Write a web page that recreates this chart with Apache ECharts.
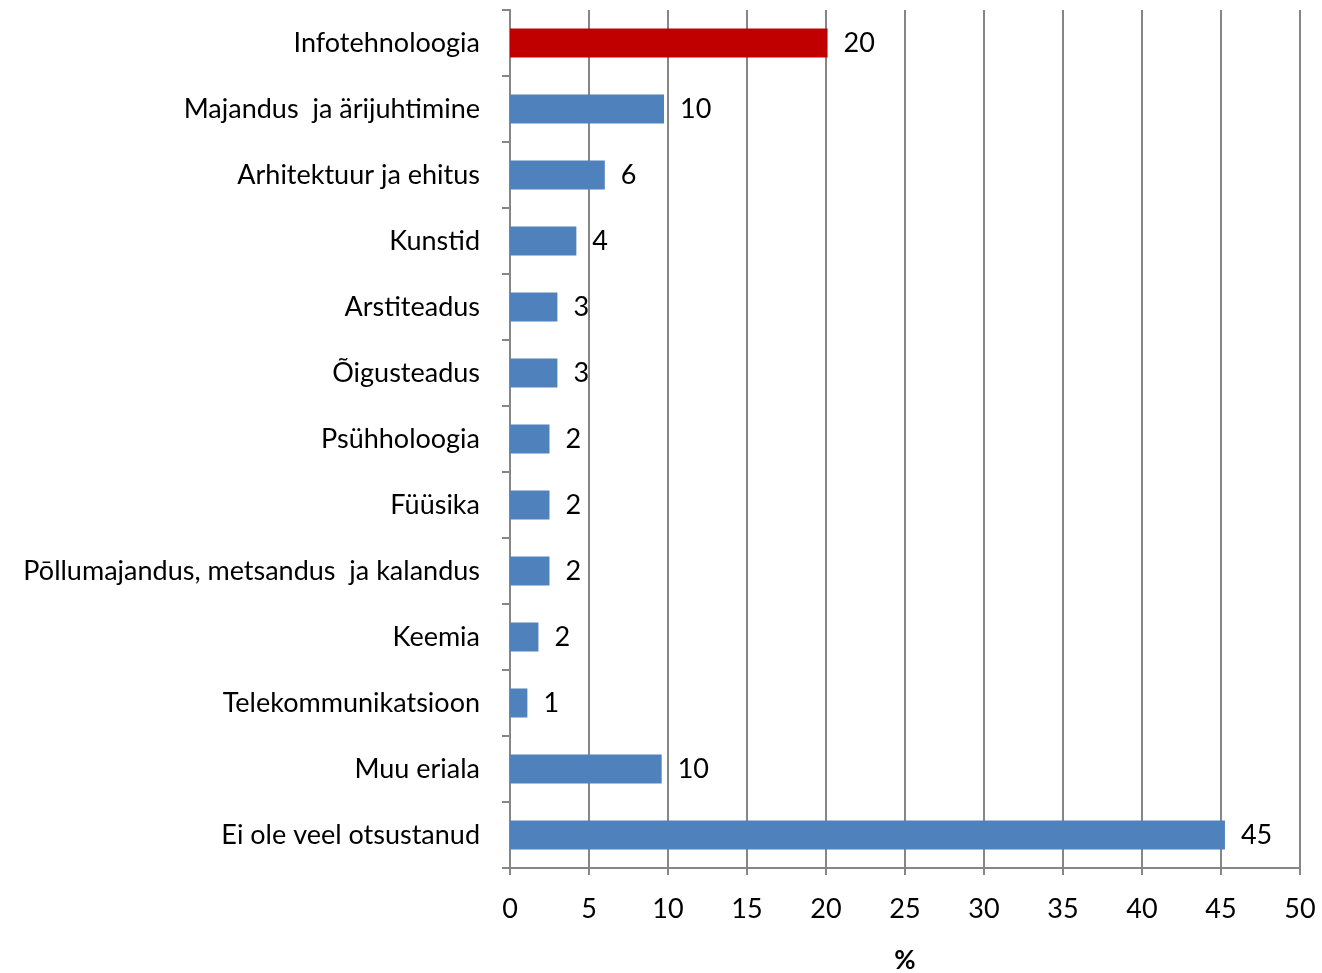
<!DOCTYPE html>
<html>
<head>
<meta charset="utf-8">
<script src="https://cdn.jsdelivr.net/npm/echarts@6/dist/echarts.min.js"></script>
<style>
  html, body { margin: 0; padding: 0; background: #fff; }
  #chart { width: 1322px; height: 973px; }
</style>
</head>
<body>
<div id="chart"></div>
<script>
// categories top to bottom
var categories = [
  "Infotehnoloogia",
  "Majandus  ja ärijuhtimine",
  "Arhitektuur ja ehitus",
  "Kunstid",
  "Arstiteadus",
  "Õigusteadus",
  "Psühholoogia",
  "Füüsika",
  "Pōllumajandus, metsandus  ja kalandus",
  "Keemia",
  "Telekommunikatsioon",
  "Muu eriala",
  "Ei ole veel otsustanud"
];
// bar lengths (%)
var values = [20.1, 9.75, 6.0, 4.2, 3.0, 3.0, 2.5, 2.5, 2.5, 1.8, 1.1, 9.6, 45.25];
// printed data labels
var valueLabels = ["20", "10", "6", "4", "3", "3", "2", "2", "2", "2", "1", "10", "45"];
var highlightIndex = 0;

var font = "Lato, 'Open Sans', sans-serif";
var chart = echarts.init(document.getElementById("chart"));

chart.setOption({
  animation: false,
  textStyle: { fontFamily: font },
  grid: { left: 510, right: 22, top: 10, bottom: 105, outerBoundsMode: "none" },
  xAxis: {
    type: "value",
    min: 0,
    max: 50,
    interval: 5,
    name: "%",
    nameLocation: "middle",
    nameGap: 80,
    nameTextStyle: { fontSize: 26, fontWeight: "bold", color: "#000", fontFamily: font },
    axisLine: { show: true, lineStyle: { color: "#868686", width: 2 } },
    axisTick: { show: true, length: 7, lineStyle: { color: "#868686", width: 2 } },
    axisLabel: { fontSize: 27, color: "#000", margin: 28, fontFamily: font },
    splitLine: { show: true, lineStyle: { color: "#868686", width: 2 } }
  },
  yAxis: {
    type: "category",
    inverse: true,
    data: categories,
    axisLine: { show: true, lineStyle: { color: "#868686", width: 2 } },
    axisTick: { show: true, length: 8, lineStyle: { color: "#868686", width: 2 } },
    axisLabel: { fontSize: 27, color: "#000", margin: 30, fontFamily: font },
    splitLine: { show: false }
  },
  series: [{
    type: "bar",
    barWidth: 29,
    data: values.map(function (v, i) {
      return {
        value: v,
        itemStyle: { color: i === highlightIndex ? "#C00000" : "#4F81BD" }
      };
    }),
    label: {
      show: true,
      position: "right",
      distance: 16,
      fontSize: 27,
      color: "#000",
      fontFamily: font,
      formatter: function (p) { return valueLabels[p.dataIndex]; }
    }
  }]
});
</script>
</body>
</html>
